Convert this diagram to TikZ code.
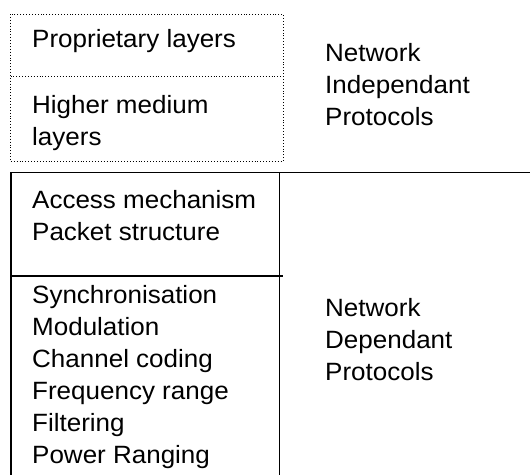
\documentclass[tikz,border=0pt]{standalone}
\usepackage{fontspec}
\setmainfont[FakeStretch=1.04]{Liberation Sans}
\begin{document}
\begin{tikzpicture}[x=1pt,y=-1pt,
  lbl/.style={anchor=base west,inner sep=0pt,font=\fontsize{25}{30}\selectfont},
  dotline/.style={line width=0.9pt,dotted},
  solidline/.style={line width=1.6pt}]
\useasboundingbox (0,0) rectangle (530,475);
% dotted upper box
\coordinate (dtl) at (10.5,14);
\coordinate (dbr) at (283,161.5);
\coordinate (dml) at (10.5,76.5);
\coordinate (dmr) at (283,76.5);
\draw[dotline] (dtl) rectangle (dbr);
\draw[dotline] (dml) -- (dmr);
% solid lower frame
\coordinate (stl) at (10,172.5);
\coordinate (str) at (530,172.5);
\coordinate (slt) at (11,172.5);
\coordinate (slb) at (11,475);
\coordinate (srt) at (279.5,172.5);
\coordinate (srb) at (279.5,475);
\coordinate (sml) at (11,276);
\coordinate (smr) at (283,276);
\draw[solidline] (stl) -- (str);
\draw[solidline] (slt) -- (slb);
\draw[solidline] (srt) -- (srb);
\draw[solidline] (sml) -- (smr);
% left texts
\node[lbl] (p1) at (32,47.5) {Proprietary layers};
\node[lbl] (h1) at (32,113) {Higher medium};
\node[lbl] (h2) at (32,145) {layers};
\node[lbl] (a1) at (32,208.5) {Access mechanism};
\node[lbl] (a2) at (32,240.5) {Packet structure};
\node[lbl] (b1) at (32,303) {Synchronisation};
\node[lbl] (b2) at (32,335) {Modulation};
\node[lbl] (b3) at (32,367) {Channel coding};
\node[lbl] (b4) at (32,399) {Frequency range};
\node[lbl] (b5) at (32,431) {Filtering};
\node[lbl] (b6) at (32,463) {Power Ranging};
% right texts
\node[lbl] (n1) at (325,61) {Network};
\node[lbl] (n2) at (325,93) {Independant};
\node[lbl] (n3) at (325,125) {Protocols};
\node[lbl] (m1) at (325,316) {Network};
\node[lbl] (m2) at (325,348) {Dependant};
\node[lbl] (m3) at (325,380) {Protocols};
\end{tikzpicture}
\end{document}
